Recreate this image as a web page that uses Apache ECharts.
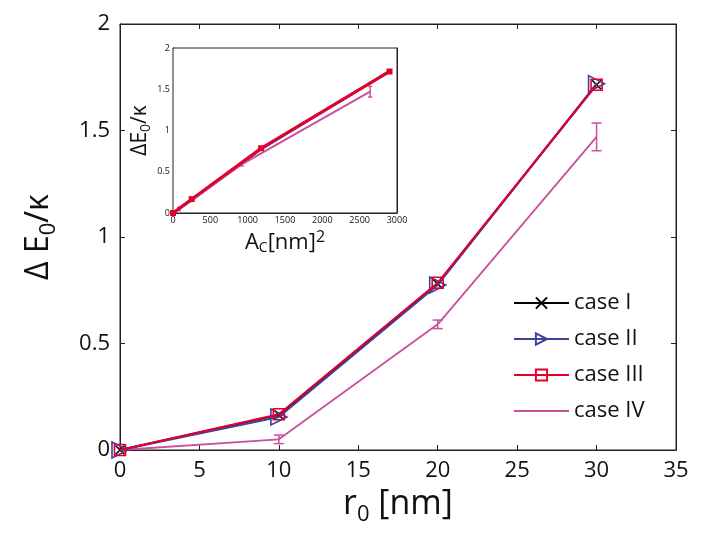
<!DOCTYPE html>
<html>
<head>
<meta charset="utf-8">
<script src="https://cdn.jsdelivr.net/npm/echarts@6/dist/echarts.min.js"></script>
<style>html,body{margin:0;padding:0;background:#fff}#c{width:704px;height:551px}</style>
</head>
<body>
<div id="c"></div>
<script>
// ---- main plot data ----
const r0 = [0, 10, 20, 30];
const caseI = [0, 0.165, 0.78, 1.715];
const caseII = [0, 0.155, 0.775, 1.72];
const caseIII = [0, 0.168, 0.785, 1.715];
const caseIV = [0, 0.05, 0.59, 1.47];
const caseIVErr = [0, 0.02, 0.02, 0.065];
const xTicks = [0, 5, 10, 15, 20, 25, 30, 35];
const yTicks = [0, 0.5, 1, 1.5, 2];
// ---- inset data ----
const areaI = [0, 250, 1180, 2900];
const areaIV = [0, 80, 920, 2640];
const insetXTicks = [0, 500, 1000, 1500, 2000, 2500, 3000];

const FONT = 'Open Sans';
const cBlack = '#000000', cBlue = '#40409e', cRed = '#e5002b', cMag = '#c9509d';

function pairs(xs, ys) { return xs.map((x, i) => [x, ys[i]]); }
function errData(xs, ys, es) { return xs.map((x, i) => [x, ys[i] - es[i], ys[i] + es[i]]).filter((d, i) => es[i] > 0); }
function errRender(color, w) {
  return function (params, api) {
    const x = api.value(0), lo = api.value(1), hi = api.value(2);
    const a = api.coord([x, lo]), b = api.coord([x, hi]);
    const st = { stroke: color, lineWidth: 1.5 };
    return { type: 'group', children: [
      { type: 'line', shape: { x1: a[0], y1: a[1], x2: b[0], y2: b[1] }, style: st },
      { type: 'line', shape: { x1: a[0] - w, y1: a[1], x2: a[0] + w, y2: a[1] }, style: st },
      { type: 'line', shape: { x1: b[0] - w, y1: b[1], x2: b[0] + w, y2: b[1] }, style: st }
    ] };
  };
}

function axisBase(min, max, interval, labels, fontSize, ticks) {
  return {
    min: min, max: max, interval: interval,
    axisLine: { show: true, onZero: false, lineStyle: { color: '#222', width: 1 } },
    axisTick: { show: true, inside: true, length: ticks, lineStyle: { color: '#222' } },
    axisLabel: { show: labels, fontFamily: FONT, fontSize: fontSize, color: '#111', formatter: function (v) { return String(v); } },
    splitLine: { show: false }
  };
}

const xMain = Object.assign(axisBase(0, 35, 5, true, 22, 5), {
  type: 'value', gridIndex: 0, position: 'bottom',
  name: '{n|r}{s|0}{n| [nm]}', nameLocation: 'middle', nameGap: 32,
  nameTextStyle: { rich: { n: { fontFamily: FONT, fontSize: 34, color: '#111' }, s: { fontFamily: FONT, fontSize: 22, color: '#111', verticalAlign: 'bottom', padding: [22, 0, 0, 0] } } }
});
xMain.axisLabel.margin = 10;
const xMainTop = Object.assign(axisBase(0, 35, 5, false, 22, 5), { type: 'value', gridIndex: 0, position: 'top' });
const yMain = Object.assign(axisBase(0, 2, 0.5, true, 22, 5), {
  type: 'value', gridIndex: 0, position: 'left',
  name: '{n|Δ E}{s|0}{n|/κ}', nameLocation: 'middle', nameGap: 60, nameRotate: 90,
  nameTextStyle: { rich: { n: { fontFamily: FONT, fontSize: 32, color: '#111' }, s: { fontFamily: FONT, fontSize: 22, color: '#111', padding: [20, 0, 0, 0] } } }
});
yMain.axisLabel.margin = 10;
const yMainRight = Object.assign(axisBase(0, 2, 0.5, false, 22, 5), { type: 'value', gridIndex: 0, position: 'right' });

const xIn = Object.assign(axisBase(0, 3000, 500, true, 9, 3), {
  type: 'value', gridIndex: 1, position: 'bottom',
  name: '{n|A}{s|C}{n|[nm]}{p|2}', nameLocation: 'middle', nameGap: 16,
  nameTextStyle: { rich: { n: { fontFamily: FONT, fontSize: 22, color: '#111' }, s: { fontFamily: FONT, fontSize: 14, color: '#111', padding: [10, 0, 0, 0] }, p: { fontFamily: FONT, fontSize: 16, color: '#111', padding: [0, 0, 12, 0] } } }
});
xIn.axisLabel.margin = 3;
const xInTop = Object.assign(axisBase(0, 3000, 500, false, 9, 3), { type: 'value', gridIndex: 1, position: 'top' });
const yIn = Object.assign(axisBase(0, 2, 0.5, true, 9, 3), {
  type: 'value', gridIndex: 1, position: 'left',
  name: '{n|ΔE}{s|0}{n|/κ}', nameLocation: 'middle', nameGap: 9, nameRotate: 90,
  nameTextStyle: { rich: { n: { fontFamily: FONT, fontSize: 21, color: '#111' }, s: { fontFamily: FONT, fontSize: 14, color: '#111', padding: [12, 0, 0, 0] } } }
});
yIn.axisLabel.margin = 3;
const yInRight = Object.assign(axisBase(0, 2, 0.5, false, 9, 3), { type: 'value', gridIndex: 1, position: 'right' });

const symX = 'path://M0,0L10,10M10,0L0,10';
const symTri = 'path://M0,0L10,5L0,10Z';

function lineSeries(name, data, color, width, symbol, size, itemStyle, xi, yi, z) {
  return {
    name: name, type: 'line', xAxisIndex: xi, yAxisIndex: yi, data: data,
    symbol: symbol, symbolSize: size, showSymbol: symbol !== 'none', clip: false,
    lineStyle: { color: color, width: width }, itemStyle: itemStyle, z: z,
    animation: false, emphasis: { disabled: true }
  };
}
function dummy(xi, yi) {
  return { type: 'line', name: '_d' + xi, xAxisIndex: xi, yAxisIndex: yi, data: [], symbol: 'none', silent: true };
}

const option = {
  animation: false,
  backgroundColor: '#fff',
  grid: [
    { left: 120, top: 24, width: 556, height: 426, show: true, borderColor: '#222', borderWidth: 1, backgroundColor: 'transparent' },
    { left: 173, top: 48, width: 224, height: 165, show: true, backgroundColor: '#fff', borderColor: '#222', borderWidth: 1, z: 5 }
  ],
  xAxis: [xMain, xMainTop, xIn, xInTop],
  yAxis: [yMain, yMainRight, yIn, yInRight],
  legend: {
    data: ['case I', 'case II', 'case III', { name: 'case IV', itemStyle: { opacity: 0 } }],
    orient: 'vertical', left: 508, top: 285, itemWidth: 55, itemHeight: 14, itemGap: 10,
    textStyle: { fontFamily: FONT, fontSize: 22, color: '#111', lineHeight: 26 },
    selectedMode: false
  },
  series: [
    lineSeries('case I', pairs(r0, caseI), cBlack, 2, symX, 9, { color: 'transparent', borderColor: cBlack, borderWidth: 1.6 }, 0, 0, 2),
    lineSeries('case II', pairs(r0, caseII), cBlue, 2, symTri, 16, { color: 'transparent', borderColor: cBlue, borderWidth: 1.6 }, 0, 0, 3),
    lineSeries('case III', pairs(r0, caseIII), cRed, 2, 'rect', 11, { color: 'transparent', borderColor: cRed, borderWidth: 1.6 }, 0, 0, 4),
    lineSeries('case IV', pairs(r0, caseIV), cMag, 1.8, 'none', 0, { color: cMag }, 0, 0, 2),
    { type: 'custom', name: 'errIV', xAxisIndex: 0, yAxisIndex: 0, data: errData(r0, caseIV, caseIVErr), renderItem: errRender(cMag, 5), z: 3, clip: false, animation: false, silent: true },
    dummy(1, 1),
    // inset
    lineSeries('in I', pairs(areaI, caseI), cBlack, 2.5, 'none', 0, { color: cBlack }, 2, 2, 10),
    lineSeries('in II', pairs(areaI, caseII), cBlue, 2.5, 'none', 0, { color: cBlue }, 2, 2, 10),
    lineSeries('in IV', pairs(areaIV, caseIV), cMag, 2, 'none', 0, { color: cMag }, 2, 2, 10),
    { type: 'custom', name: 'inErrIV', xAxisIndex: 2, yAxisIndex: 2, data: errData(areaIV, caseIV, caseIVErr), renderItem: errRender(cMag, 2), z: 10, clip: false, animation: false, silent: true },
    lineSeries('in III', pairs(areaI, caseIII), cRed, 3, 'rect', 6, { color: cRed }, 2, 2, 11),
    dummy(3, 3)
  ]
};

const chart = echarts.init(document.getElementById('c'), null, { renderer: 'canvas' });
chart.setOption(option);
</script>
</body>
</html>
